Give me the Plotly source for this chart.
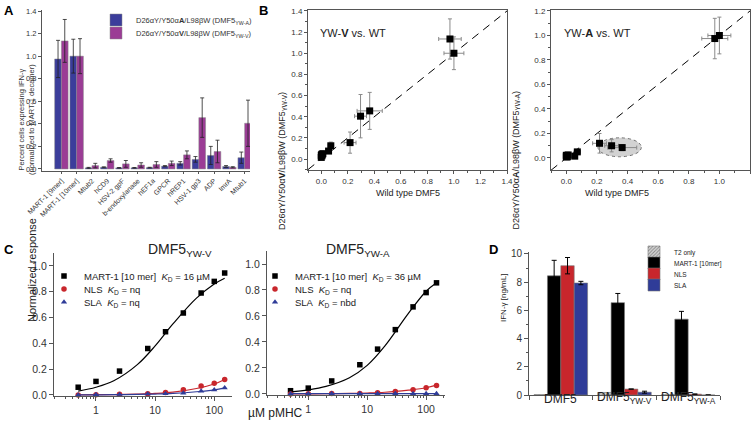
import plotly.graph_objects as go

W, H = 756, 431
def X(px): return px / W
def Y(py): return 1 - py / H

FONT = "Liberation Sans, Arial, sans-serif"

# ---------------- Panel A / B data ----------------
peptides = ["MART-1 [9mer]", "MART-1 [10mer]", "Mtub2", "hCD9", "HSV-2 gpF", "b-endoxylanase",
            "hEF1a", "GPCR", "hREP1", "HSV-1 gp3", "ADP", "ImrA", "Mtub1"]
yw_a = [0.975, 1.0, 0.01, 0.015, 0.01, 0.01, 0.012, 0.025, 0.05, 0.085, 0.12, 0.022, 0.10]
yw_a_err = [0.165, 0.15, 0.004, 0.004, 0.003, 0.003, 0.003, 0.005, 0.015, 0.025, 0.08, 0.008, 0.05]
yw_v = [1.135, 1.0, 0.03, 0.075, 0.045, 0.035, 0.04, 0.05, 0.125, 0.455, 0.155, 0.015, 0.405]
yw_v_err = [0.19, 0.155, 0.02, 0.015, 0.03, 0.02, 0.025, 0.02, 0.035, 0.175, 0.1, 0.005, 0.205]
wt = [0.97, 1.0, 0.005, 0.055, 0.005, 0.0, 0.005, 0.012, 0.072, 0.365, 0.217, 0.0, 0.296]
wt_err = [0.085, 0.075, 0.005, 0.01, 0.005, 0.005, 0.005, 0.005, 0.02, 0.095, 0.045, 0.005, 0.045]
highlight = ["ADP", "Mtub1", "HSV-1 gp3"]

# ---------------- Panel C data ----------------
conc = [0.5, 1, 2.5, 7.5, 15, 30, 60, 100, 150]
v_mart = [0.06, 0.105, 0.185, 0.36, 0.49, 0.635, 0.79, 0.88, 0.945]
v_nls = [0.0, 0.002, 0.005, 0.01, 0.02, 0.04, 0.07, 0.09, 0.12]
v_sla = [0.0, 0.003, 0.004, 0.008, 0.01, 0.015, 0.03, 0.04, 0.055]
a_mart = [0.025, 0.045, 0.1, 0.225, 0.345, 0.495, 0.67, 0.78, 0.855]
a_nls = [0.0, 0.001, 0.003, 0.004, 0.01, 0.018, 0.033, 0.047, 0.065]
a_sla = [0.002, 0.002, 0.003, 0.003, 0.003, 0.003, 0.003, 0.003, 0.003]
fit_conc = [0.5, 1, 2, 5, 10, 20, 50, 100, 150]
v_mart_fit = [0.03, 0.06, 0.11, 0.235, 0.38, 0.55, 0.75, 0.86, 0.905]
v_nls_fit = [0.001, 0.002, 0.003, 0.007, 0.012, 0.022, 0.05, 0.085, 0.12]
v_sla_fit = [0.0005, 0.001, 0.002, 0.004, 0.007, 0.012, 0.025, 0.04, 0.055]
a_mart_fit = [0.016, 0.031, 0.058, 0.125, 0.22, 0.37, 0.62, 0.79, 0.855]
a_nls_fit = [0.0005, 0.001, 0.002, 0.004, 0.007, 0.013, 0.03, 0.048, 0.068]
a_sla_fit = [0.002, 0.002, 0.002, 0.002, 0.002, 0.002, 0.002, 0.002, 0.002]
v_labels = ["MART-1 [10 mer]\u00a0\u00a0<i>K</i><sub>D</sub> = 16 µM",
            "NLS\u00a0\u00a0<i>K</i><sub>D</sub> = nq", "SLA\u00a0\u00a0<i>K</i><sub>D</sub> = nq"]
a_labels = ["MART-1 [10 mer]\u00a0\u00a0<i>K</i><sub>D</sub> = 36 µM",
            "NLS\u00a0\u00a0<i>K</i><sub>D</sub> = nq", "SLA\u00a0\u00a0<i>K</i><sub>D</sub> = nbd"]

# ---------------- Panel D data ----------------
d_groups = ["DMF5", "DMF5<sub>YW-V</sub>", "DMF5<sub>YW-A</sub>"]
d_t2 = [0.03, 0.18, 0.02]
d_mart = [8.45, 6.55, 5.38]
d_mart_err = [1.1, 0.65, 0.55]
d_nls = [9.17, 0.42, 0.06]
d_nls_err = [0.58, None, None]
d_sla = [7.94, 0.2, 0.0]
d_sla_err = [0.12, 0.07, None]

BLUE_A = "#3b3d9b"
PURPLE_A = "#9b3c95"
RED = "#c8262c"
BLUE = "#2f3c98"

legends = {}
def leg(name, xpx, ypx, size, color="#222"):
    legends[name] = dict(x=X(xpx), y=Y(ypx), xanchor="left", yanchor="middle",
                         font=dict(family=FONT, size=size, color=color),
                         bgcolor="rgba(0,0,0,0)", borderwidth=0, itemwidth=30)
    return name

fig = go.Figure()

# ---- Panel A bars ----
idx = list(range(len(peptides)))
fig.add_trace(go.Bar(x=idx, y=yw_a, width=0.44, offset=-0.44, marker=dict(color=BLUE_A, line=dict(color="#888", width=0.5)),
                     error_y=dict(type="data", array=yw_a_err, color="#222", thickness=0.8, width=2),
                     name="D26αY/Y50α<b>A</b>/L98βW (DMF5<sub>YW-A</sub>)", xaxis="x", yaxis="y",
                     legend=leg("legend", 96, 20, 7.5, "#333")))
fig.add_trace(go.Bar(x=idx, y=yw_v, width=0.44, offset=0.0, marker=dict(color=PURPLE_A, line=dict(color="#888", width=0.5)),
                     error_y=dict(type="data", array=yw_v_err, color="#222", thickness=0.8, width=2),
                     name="D26αY/Y50α<b>V</b>/L98βW (DMF5<sub>YW-V</sub>)", xaxis="x", yaxis="y",
                     legend=leg("legend2", 96, 33, 7.5, "#333")))

# ---- Panel B scatter ----
BL_RANGE = [-0.1, 1.4]
BR_RANGE = [-0.1, 1.2]
fig.add_trace(go.Scatter(x=BL_RANGE, y=BL_RANGE, mode="lines", line=dict(color="black", width=1, dash="8px,6px"),
                         showlegend=False, xaxis="x2", yaxis="y2", hoverinfo="skip"))
fig.add_trace(go.Scatter(x=wt, y=yw_v, mode="markers", marker=dict(symbol="square", size=7, color="black"),
                         error_x=dict(type="data", array=wt_err, color="#8a8a8a", thickness=1, width=2),
                         error_y=dict(type="data", array=yw_v_err, color="#8a8a8a", thickness=1, width=2),
                         showlegend=False, xaxis="x2", yaxis="y2", cliponaxis=False))
fig.add_trace(go.Scatter(x=BR_RANGE, y=BR_RANGE, mode="lines", line=dict(color="black", width=1, dash="8px,6px"),
                         showlegend=False, xaxis="x3", yaxis="y3", hoverinfo="skip"))
fig.add_trace(go.Scatter(x=wt, y=yw_a, mode="markers", marker=dict(symbol="square", size=7, color="black"),
                         error_x=dict(type="data", array=wt_err, color="#8a8a8a", thickness=1, width=2),
                         error_y=dict(type="data", array=yw_a_err, color="#8a8a8a", thickness=1, width=2),
                         showlegend=False, xaxis="x3", yaxis="y3", cliponaxis=False))

# ---- Panel C ----
def add_c(xa, ya, legnames, pts, fits, labels):
    cols = ["black", RED, BLUE]
    syms = ["square", "circle", "triangle-up"]
    for p, f, lab, c, s, ln in zip(pts, fits, labels, cols, syms, legnames):
        fig.add_trace(go.Scatter(x=fit_conc, y=f, mode="lines", line=dict(color=c, width=1.2, shape="spline", smoothing=1.0),
                                 showlegend=False, xaxis=xa, yaxis=ya, hoverinfo="skip", cliponaxis=False))
        fig.add_trace(go.Scatter(x=conc, y=p, mode="markers", marker=dict(symbol=s, size=5.5, color=c),
                                 name=lab, xaxis=xa, yaxis=ya, legend=ln, cliponaxis=False))

add_c("x4", "y4", [leg("legend3", 44, 276, 9.5), leg("legend4", 44, 289, 9.5), leg("legend5", 44, 302, 9.5)],
      [v_mart, v_nls, v_sla], [v_mart_fit, v_nls_fit, v_sla_fit], v_labels)
add_c("x5", "y5", [leg("legend6", 255, 276, 9.5), leg("legend7", 255, 289, 9.5), leg("legend8", 255, 302, 9.5)],
      [a_mart, a_nls, a_sla], [a_mart_fit, a_nls_fit, a_sla_fit], a_labels)

# ---- Panel D ----
gidx = list(range(len(d_groups)))
bw = 0.21
fig.add_trace(go.Bar(x=gidx, y=d_t2, width=bw, offset=-2 * bw, name="T2 only",
                     marker=dict(color="#d8d8d8", line=dict(color="#777", width=0.6),
                                 pattern=dict(shape="/", fgcolor="#333", bgcolor="#d8d8d8", size=3, solidity=0.4)),
                     xaxis="x6", yaxis="y6", legend=leg("legend9", 634, 252, 6.5)))
fig.add_trace(go.Bar(x=gidx, y=d_mart, width=bw, offset=-bw, name="MART-1 [10mer]",
                     marker=dict(color="black", line=dict(color="#777", width=0.6)),
                     error_y=dict(type="data", array=d_mart_err, color="black", thickness=1, width=2.5),
                     xaxis="x6", yaxis="y6", legend=leg("legend10", 634, 263, 6.5)))
fig.add_trace(go.Bar(x=gidx, y=d_nls, width=bw, offset=0, name="NLS",
                     marker=dict(color=RED, line=dict(color="#777", width=0.6)),
                     error_y=dict(type="data", array=d_nls_err, color="black", thickness=1, width=2.5),
                     xaxis="x6", yaxis="y6", legend=leg("legend11", 634, 274, 6.5)))
fig.add_trace(go.Bar(x=gidx, y=d_sla, width=bw, offset=bw, name="SLA",
                     marker=dict(color=BLUE, line=dict(color="#777", width=0.6)),
                     error_y=dict(type="data", array=d_sla_err, color="black", thickness=1, width=2.5),
                     xaxis="x6", yaxis="y6", legend=leg("legend12", 634, 285, 6.5)))

# ---- Highlight ellipse in B-right ----
sel = [peptides.index(h) for h in highlight]
sx = [wt[i] for i in sel]
sy = [yw_a[i] for i in sel]
fig.add_shape(type="circle", xref="x3", yref="y3", x0=min(sx) - 0.01, x1=max(sx) + 0.125,
              y0=min(sy) - 0.075, y1=max(sy) + 0.045, fillcolor="#d2d2d2",
              line=dict(color="#555", width=0.8, dash="dot"), layer="below")

axis_common = dict(showline=True, linecolor="#555", linewidth=1, ticks="outside", tickcolor="#555",
                   tickfont=dict(family=FONT, color="#333"), showgrid=False, zeroline=False, automargin=False)

def ax(**kw):
    d = dict(axis_common)
    d.update(kw)
    return d

MINOR_LOG = [0.2, 0.3, 0.4, 0.5, 0.6, 0.7, 0.8, 0.9, 2, 3, 4, 5, 6, 7, 8, 9, 20, 30, 40, 50, 60, 70, 80, 90, 200]
minor_lin = dict(dtick=0.1, ticks="outside", ticklen=2, tickcolor="#555")

layout = dict(
    width=W, height=H, margin=dict(l=0, r=0, t=0, b=0, pad=0, autoexpand=False),
    paper_bgcolor="white", plot_bgcolor="white",
    barmode="overlay", font=dict(family=FONT, color="#222"),
    # A
    xaxis=ax(domain=[X(42), X(250)], range=[-1.27, 12.35], anchor="y", tickvals=idx, ticktext=peptides,
             tickangle=-45, tickfont=dict(family=FONT, size=7, color="#333"), ticklen=2),
    yaxis=ax(domain=[Y(171), Y(10)], range=[-0.018, 1.409], anchor="x", tickvals=[0, 0.2, 0.4, 0.6, 0.8, 1.0, 1.2, 1.4],
             tickformat=".1f", tickfont=dict(family=FONT, size=7.5, color="#333"), ticklen=3),
    # B-left
    xaxis2=ax(domain=[X(308), X(507)], range=BL_RANGE, anchor="y2", dtick=0.2, tickformat=".1f", mirror=True,
              tickfont=dict(family=FONT, size=8, color="#333"), ticklen=3, minor=minor_lin),
    yaxis2=ax(domain=[Y(170), Y(10)], range=[-0.104, 1.409], anchor="x2", dtick=0.2, tickformat=".1f", mirror=True,
              tickfont=dict(family=FONT, size=8, color="#333"), ticklen=3, minor=minor_lin),
    # B-right
    xaxis3=ax(domain=[X(551), X(750)], range=BR_RANGE, anchor="y3", dtick=0.2, tickformat=".1f", mirror=True,
              tickfont=dict(family=FONT, size=8, color="#333"), ticklen=3, minor=minor_lin),
    yaxis3=ax(domain=[Y(170), Y(10)], range=[-0.098, 1.208], anchor="x3", dtick=0.2, tickformat=".1f", mirror=True,
              tickfont=dict(family=FONT, size=8, color="#333"), ticklen=3, minor=minor_lin),
    # C-left
    xaxis4=ax(domain=[X(54), X(232)], type="log", range=[-0.71, 2.3], anchor="y4", tickvals=[1, 10, 100],
              ticktext=["1", "10", "100"], tickfont=dict(family=FONT, size=10.5, color="#333"), ticklen=4,
              minor=dict(tickvals=MINOR_LOG, ticks="outside", ticklen=2, tickcolor="#555")),
    yaxis4=ax(domain=[Y(396), Y(253)], range=[-0.008, 1.1], anchor="x4", tickvals=[0, 0.2, 0.4, 0.6, 0.8, 1.0],
              tickformat=".1f", tickfont=dict(family=FONT, size=10.5, color="#333"), ticklen=4),
    # C-right
    xaxis5=ax(domain=[X(267), X(445)], type="log", range=[-0.7, 2.32], anchor="y5", tickvals=[1, 10, 100],
              ticktext=["1", "10", "100"], tickfont=dict(family=FONT, size=10.5, color="#333"), ticklen=4,
              minor=dict(tickvals=MINOR_LOG, ticks="outside", ticklen=2, tickcolor="#555")),
    yaxis5=ax(domain=[Y(395), Y(251)], range=[-0.008, 1.1], anchor="x5", tickvals=[0, 0.2, 0.4, 0.6, 0.8, 1.0],
              tickformat=".1f", tickfont=dict(family=FONT, size=10.5, color="#333"), ticklen=4),
    # D
    xaxis6=ax(domain=[X(529), X(720)], range=[-0.5, 2.5], anchor="y6", tickvals=[-0.5, 0.5, 1.5, 2.5],
              showticklabels=False, ticklen=4),
    yaxis6=ax(domain=[Y(395), Y(252)], range=[0, 10.14], anchor="x6", tickvals=[0, 2, 4, 6, 8, 10],
              tickfont=dict(family=FONT, size=10, color="#333"), ticklen=4,
              minor=dict(dtick=1, ticks="outside", ticklen=2, tickcolor="#555")),
)
layout.update(legends)
fig.update_layout(**layout)

ann = []
def A(x, y, text, size, **kw):
    d = dict(x=x, y=y, xref="paper", yref="paper", text=text, showarrow=False,
             font=dict(family=FONT, size=size, color=kw.pop("color", "#222")))
    d.update(kw)
    ann.append(d)

A(X(2), Y(1), "<b>A</b>", 13, xanchor="left", yanchor="top", color="black")
A(X(257), Y(1), "<b>B</b>", 13, xanchor="left", yanchor="top", color="black")
A(X(2), Y(240), "<b>C</b>", 13, xanchor="left", yanchor="top", color="black")
A(X(487), Y(240), "<b>D</b>", 13, xanchor="left", yanchor="top", color="black")
A(X(15), Y(62), "Percent cells expressing IFN-γ<br>(normalized to MART-1 decamer)", 7.5, textangle=-90, color="#333")
A(X(282), Y(90), "D26αY/Y50α<b>V</b>/L98βW (DMF5<sub>YW-V</sub>)", 9, textangle=-90)
A(X(523), Y(90), "D26αY/Y50α<b>A</b>/L98βW (DMF5<sub>YW-A</sub>)", 9, textangle=-90)
A(X(408), Y(193), "Wild type DMF5", 9)
A(X(651), Y(193), "Wild type DMF5", 9)
A(X(318), Y(25), "YW-<b>V</b> vs. WT", 11, xanchor="left")
A(X(562), Y(25), "YW-<b>A</b> vs. WT", 11, xanchor="left")
A(X(146), Y(250), "DMF5<sub>YW-V</sub>", 14)
A(X(358), Y(250), "DMF5<sub>YW-A</sub>", 14)
A(X(24), Y(324), "Normalized response", 11, textangle=-90)
A(X(246), Y(422), "µM pMHC", 12)
A(X(503), Y(324), "IFN-γ [ng/mL]", 8, textangle=-90)
for g, lab in zip(gidx, d_groups):
    ann.append(dict(x=g, y=Y(408), xref="x6", yref="paper", text=lab, showarrow=False,
                    font=dict(family=FONT, size=12, color="#222")))
fig.update_layout(annotations=ann)

fig.write_html("out.html", config={"displayModeBar": False},
               post_script="document.body.style.margin='0px';document.body.style.padding='0px';document.body.style.overflow='hidden';")
